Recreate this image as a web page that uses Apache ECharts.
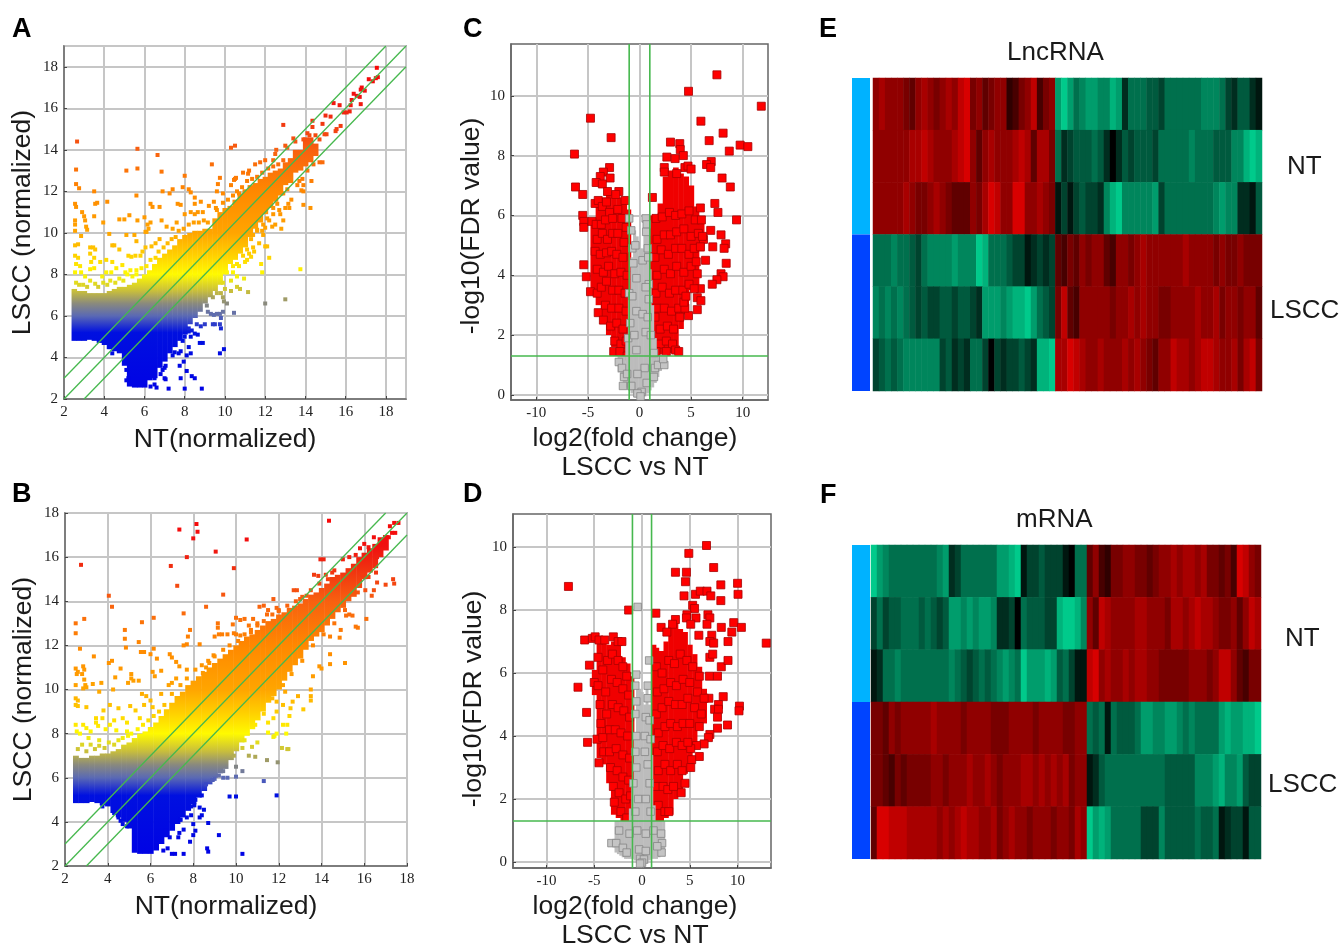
<!DOCTYPE html>
<html><head><meta charset="utf-8">
<style>html,body{margin:0;padding:0;background:#fff}#c{width:1343px;height:945px}</style>
<script src="https://cdn.jsdelivr.net/npm/echarts@6/dist/echarts.min.js"></script>
</head><body><div id="c"></div>
<script>
// ---------- DATA ----------
const volXTicks=[-10,-5,0,5,10];
const volYTicks=[0,2,4,6,8,10];
// Panel A dense cloud: [x, low y, high y]
const bodyA=[[2.5,4.8,7.3],[2.75,4.8,7.2],[3,4.8,7.2],[3.25,4.85,7.1],[3.5,4.8,7.1],[3.75,4.7,7.1],[4,4.6,7.1],[4.25,4.4,7.2],[4.5,4.3,7.3],[4.75,4.2,7.4],[5,3.6,7.4],[5.25,2.6,7.5],[5.5,2.55,7.6],[5.75,2.55,7.8],[6,2.55,8],[6.25,2.9,8.2],[6.5,3.0,8.5],[6.75,3.5,8.8],[7,3.8,9],[7.25,4.2,9.2],[7.5,4.5,9.4],[7.75,4.8,9.7],[8,5.1,9.9],[8.25,5.6,10],[8.5,5.9,10.1],[8.75,6.2,10.1],[9,6.6,10.2],[9.25,6.9,10.2],[9.5,7.2,10.7],[9.75,7.5,11],[10,8,11.2],[10.25,8.5,11.3],[10.5,8.7,11.6],[10.75,9,11.9],[11,9.3,12.1],[11.25,9.8,12.3],[11.5,10.2,12.4],[11.75,10.5,12.6],[12,10.9,12.7],[12.25,11.2,12.9],[12.5,11.5,13],[12.75,11.8,13.1],[13,12.3,13.4],[13.25,12.4,13.6],[13.5,12.9,14],[13.75,13,14],[14,13.2,14.6],[14.25,13.4,14.6],[14.5,13.7,14.3]];
// Panel A single points: x,y pairs
const ptsA=[17.55,17.95,17.6,17.5,17.5,17.45,17.35,17.3,17.15,17.4,16.95,16.85,16.8,17,16.75,16.9,16.55,16.6,16.4,16.7,16.7,16.55,16.3,16.4,16.75,16.2,16.25,16.15,16.2,15.85,16.05,15.8,15.9,15.8,15.7,16.15,15.4,16.25,15.25,15.6,15,15.65,14.85,15.25,15.75,15.15,15.55,15,15.5,14.9,15.05,14.75,14.95,14.75,12.9,15.2,14.35,15.4,14.35,15.1,14.1,14.8,14.5,14.7,14.7,14.5,13.4,14.55,13.5,14.4,13.9,14.5,14.2,14.7,14.85,13.4,14.7,13.4,14.3,12.5,13.9,12,13.8,12.05,13.9,12.3,13.85,12.6,13.9,11.35,14.25,11.2,12.8,10.2,12.9,10.6,12.75,10.9,13.2,11.2,13.15,11.4,12.5,10.4,12.35,10.3,12,10.25,11.85,10.1,11.6,10.15,
2.65,14.4,2.6,13.05,2.6,12.35,2.75,12.15,2.55,11.4,2.6,11.25,2.55,10.6,2.55,10.4,2.55,10.1,2.9,11,3,10.8,3.05,10.6,3.1,10.3,3.15,10.15,2.85,9.85,2.55,9.4,2.7,9.45,3.5,12,3.65,11.45,3.55,11.4,3.5,10.8,4.15,11.5,3.95,10.5,4.25,9.95,4.4,9.4,4.75,10.65,5,10.65,5.1,9.9,5.25,10.85,5.1,13,5.65,14.05,5.65,13.1,5.6,11.8,5.65,10.6,5.6,9.6,5.5,9.9,6,10.75,6.1,10.05,6.05,10.05,6.2,10.2,6.15,10.4,6.3,11.4,6.4,11.25,6.3,10.5,6.65,13.75,6.85,12.95,6.9,12,6.75,11.25,6.85,10.6,7.25,11.9,7.4,12.1,7.65,11.4,7.8,11.35,8,12.75,7.9,12.2,8.2,12.1,8.3,11.95,8.5,11.7,8.5,11.4,8.8,11.5,8.65,11,8.9,11,9.35,13.3,9.75,12.65,9.65,12.35,9.6,12,9.45,11.5,9.55,11.2,10.3,14.1,10.5,14.2,10.45,12.55,10.55,12.65,10.7,11.9,11.15,12.85,9.2,11.3,7.1,10.3,7.4,10.2,7.6,10.5,8,10.9,8.3,11,8.5,10.9,
13.75,8.25,13,6.8,12,6.6,10.45,6.15,10.1,6.6,9.95,6.7,11.15,7.15,10.6,7.4,10.75,7.3,10.95,7.8,11.85,8.1,11.8,8.5,12.2,8.8,12,9.35,12.1,9.35,11.3,8.85,11.1,8.7,11.45,9.1,11.7,9.5,10.6,7.9,10.3,7.7,10,7.3,10.3,7.2,9.9,6.9,
8.85,2.5,8,2.5,7.2,2.5,8.35,3.1,8.5,3,7.8,3,8.1,3.35,7.75,3.6,7.95,3.8,7.05,2.95,7,3,6.9,3.4,9.75,4.2,9.95,4.4,8.9,4.7,8.75,4.7,8.1,4.1,8.3,4.2,8.2,4.5,7.8,4.3,8.65,5.1,8.5,5.15,8.35,5.3,8.2,5.25,9.8,5.4,9.75,5.6,9.4,5.6,9.5,5.6,9.8,5.9,9.15,6.2,9.3,6.1,9.45,6.05,9.6,6.1,9.75,6.1,9.9,6.2,
2.55,8.9,2.7,8.8,2.6,8.5,2.8,8.4,2.55,8.1,2.85,8.1,3.05,7.9,3.3,9.3,3.45,9.3,3.55,9.2,3.3,9,3.5,8.8,3.35,8.6,3.5,8.3,3.3,8.25,3.8,8.6,4.1,8.7,4.4,8.6,4.1,8.1,4.35,8.1,3.9,7.9,4.6,8.3,4.9,8.45,5.2,8.9,5.35,8.85,5.55,8.9,5.8,8.9,5.9,9.1,6.05,9.3,6.35,9.35,6.55,9.5,6.75,9.7,5.05,8.1,5.3,8.2,5.6,8.2,4.75,9.2,4.5,9.4,
4.3,4.5,4.4,4.2,4.7,4.4,5.1,3.4,5.2,3,5.1,2.9,6.3,2.6,6.5,2.7,6.6,2.55,6.5,3.0,7,3.5,7.05,3.6,6.8,3.2,7.4,4.1,7.5,4.25,7.7,4.2,7.9,4.8,8,5,8.2,5.4,8.3,5,8.6,5.6,8.8,5.5,9,5.6,
9.9,11.9,10.3,12.3,10.5,12.6,10.9,12.9,11.2,13,11.5,13.3,11.75,13.4,12,13.5,12.4,13.5,12.5,13.8,12.55,14,13,14.2,13.1,14.1,9.8,7.1,10.4,8.1,10.7,8.4,11,8.6,11.2,9,11.4,9.3,11.3,9.7,11.9,9.9,12.2,10.6,12.4,10.9,12.7,11.1,13,11.2,13.3,11.6,13.6,12.3,13.7,12.5,14.1,13,14.4,13.3,
2.6,7.6,2.75,7.5,2.95,7.5,3.15,7.4,3.3,7.7,3.55,7.55,3.7,7.4,3.95,7.6,4.15,7.5,4.3,7.7,4.55,7.6,4.75,7.8,4.95,7.7,5.15,8,5.4,7.9,5.6,8,5.85,8.3,6.1,8.4,6.3,8.7,6.55,8.8,6.7,9.1,6.95,9.3,7.15,9.5,7.35,9.7,7.55,9.8,7.7,10.1,7.95,10.2,8.2,10.4,8.45,10.5,8.7,10.5,8.95,10.6,9.15,10.5,
9.1,6.5,9.4,6.9,9.6,7.1,9.9,7.6,10.1,8.1,10.4,8.4,10.6,8.5,10.9,8.9,11.1,9.2,11.4,9.9,11.6,10.1,11.9,10.4,12.1,10.7,12.4,11.2,12.6,11.4,12.9,11.9,13.1,12.1,
9.6,11.1,9.9,11.45,10.15,11.6,10.4,11.8,10.6,12,10.85,12.2,11.1,12.5,11.35,12.6,11.6,12.7,11.85,12.9,12.15,13.1,12.4,13.2,12.65,13.3,12.9,13.5];
// Panel B dense cloud
const bodyB=[[2.5,4.85,7],[2.75,4.85,6.9],[3,4.85,6.9],[3.25,4.9,7],[3.5,4.85,7],[3.75,4.75,7.1],[4,4.7,7.1],[4.25,4.4,7.2],[4.5,4.2,7.3],[4.75,4,7.5],[5,3.7,7.6],[5.25,2.6,7.8],[5.5,2.55,8],[5.75,2.55,8.1],[6,2.55,8.3],[6.25,2.7,8.5],[6.5,3,8.8],[6.75,3.3,9.1],[7,3.6,9.4],[7.25,3.9,9.7],[7.5,4.2,9.9],[7.75,4.5,10.2],[8,4.8,10.4],[8.25,5.1,10.6],[8.5,5.4,10.8],[8.75,5.7,11],[9,6,11.2],[9.25,6.2,11.4],[9.5,6.4,11.6],[9.75,6.8,11.8],[10,7.2,12],[10.25,7.6,12.2],[10.5,7.9,12.4],[10.75,8.2,12.5],[11,8.6,12.7],[11.25,9,12.9],[11.5,9.4,13.1],[11.75,9.7,13.2],[12,10,13.4],[12.25,10.4,13.5],[12.5,10.8,13.7],[12.75,11.1,13.8],[13,11.4,13.9],[13.25,11.8,14.1],[13.5,12.2,14.3],[13.75,12.4,14.4],[14,12.6,14.6],[14.25,12.9,14.8],[14.5,13.2,15.1],[14.75,13.5,15.2],[15,13.7,15.3],[15.25,14,15.5],[15.5,14.2,15.7],[15.75,14.6,16],[16,15,16.2],[16.25,15.3,16.4],[16.5,15.5,16.6],[16.75,16,16.9],[17,16.3,17]];
const ptsB=[2.75,15.65,8.15,17.5,7.35,17.25,8.2,17.15,8,16.85,10.5,16.8,9.05,16.25,7.7,16,14.35,17.65,6.95,15.6,9.9,15.5,7.25,14.7,9.4,14.3,4.05,14.25,4.2,13.75,8.6,13.75,7.55,13.45,6.15,13.25,5.6,13.05,2.5,13,2.9,13.2,2.5,12.55,2.7,11.85,4.8,12.7,4.8,12.3,4.85,11.9,5.45,12.15,5.55,11.7,5.7,11.7,6.15,11.85,6,11.6,6.3,11.4,3.35,11.5,4.2,11.3,4.05,11.2,4.6,10.95,2.5,10.95,2.6,10.8,2.55,10.7,2.85,11.05,2.9,10.9,2.8,10.7,2.9,10.45,2.95,10.2,2.85,10.05,3,10.1,2.5,10.2,2.5,9.6,2.6,9.5,2.5,9.3,2.6,9.25,3.3,10.25,3.7,10.3,4.25,10,3.6,9.9,4.35,10.55,4.95,10.3,5.1,10.7,5.1,10.5,5.2,10.4,5.45,10.4,5.6,9.8,5.8,9.7,6.1,10.8,6.2,10.6,6.5,10.85,6.9,11.6,7,11.45,7.2,11.25,7.35,11.05,7.7,10.9,7.55,12,7.7,12.05,7.85,12.7,7.75,12.4,8.3,12.05,8.45,10.75,8.6,11,8.75,11.2,8.95,11.55,9,12.4,9.15,12.8,9.2,12.5,9.35,12.5,9.6,12.5,9.15,13,9.85,12.95,10,13.25,10.2,13.15,10.4,13.2,10.6,12.9,10.8,13.2,9.9,12.55,10,12.5,10.2,12.45,11.1,13.75,11.3,13.8,11.45,13.4,11.75,14.1,11,13,10.7,12.6,11.5,13.6,11.9,13.7,12,13.55,12.7,14.5,12.85,14.5,13,14.1,13.3,14.25,13.65,15.2,13.85,15.15,13.95,15.9,14.1,15.9,14.2,15.2,14.5,15.3,15,15.9,15.3,16,15.6,16.1,15.8,16.4,16,16.6,16.2,16.45,16.6,16,17.2,17.4,17.3,17.1,17.4,17.55,17.6,17.55,17.45,17.1,17.15,16.9,16.9,16.7,16.7,16.55,16.45,16.9,15.9,15.2,16.45,14.5,16.35,14.25,16.05,14.5,16.6,14.85,16.55,15.3,17,14.75,17.35,15,17.4,14.8,16.1,13.2,15.7,12.8,15.6,12.85,15.15,13.35,15.3,13.4,15.45,13.35,14.9,12.7,14.85,12.35,14.4,12.4,14.4,11.6,15.1,11.2,14.4,11.15,14,10.95,13.9,11.05,13.6,10.6,13.5,10,13.5,9.7,13.5,9.5,13.15,9.1,12.9,9.7,12.65,9.45,12.55,9.15,12.3,9.9,12.5,8.8,12.2,8.4,12.4,8.4,12.35,8,12.4,7.3,12.15,7.35,12.45,7.3,11.5,8.05,11.8,7.9,11.9,8,11.95,6.7,11.45,6.8,11.3,5.85,11.9,5.2,10,6.05,10,5.15,9.7,5.15,10.3,6.3,10,6.5,10.3,2.55,8.65,2.8,8.7,2.65,7.55,2.55,9.2,3.4,8.7,3.95,8,3.9,7,2.55,7.15,2.55,6.6,2.7,6.8,2.8,7.3,3.3,7.35,3.5,7.85,3.1,8,3.4,8.1,3.6,7.55,3.65,6.9,3.3,6.7,3.6,7.4,4.1,8.3,4.2,8.4,4.3,8.5,4.55,7.7,4.2,7.9,4.3,8.05,4.75,8.3,4.65,8.1,5,8.6,5.7,8.9,5.9,9,5.95,9.2,6.1,9.4,6,9.6,6,4.5,4.2,4.6,4.05,4.7,3.9,4.9,3.8,3.75,4.7,4.3,4.4,2.5,8.4,2.55,8.1,2.7,8,2.85,8.4,3,8.25,3.2,8.1,3.1,7.8,3.45,8.7,3.55,8.35,3.6,7.7,3.9,8.2,3.75,8.7,4.1,8.4,4.3,8.6,4.4,8.15,4.7,8.7,4.9,8.5,4.9,8.1,5.3,9.05,5.5,8.7,5.7,9.3,5.05,9.25,4.5,9.15,4.1,9.3,3.8,9.05,3.45,8.5,3,9.2,6,9.5,6.5,9.8,6.1,9.2,6.85,10.2,7,10.3,7.2,10.5,10.3,7.35,10.6,7,10.9,6.95,10.75,7.4,11,7.6,11.5,8.5,11.75,8.7,11.9,9,12.2,9.3,11.9,9.45,11.75,7.85,
2.6,7.3,2.8,7.5,3,7.2,3.2,7.5,3.4,7.3,3.6,7.45,3.85,7.35,4.05,7.6,4.3,7.5,4.5,7.7,4.7,7.8,4.95,7.9,5.1,8,5.4,8.2,5.65,8.4,5.9,8.6,6.15,8.8,6.4,9,6.65,9.3,
7,9.8,7.4,10.2,7.7,10.5,8.1,10.9,8.4,11.1,8.7,11.3,9,11.5,9.4,11.8,9.7,12,10.1,12.2,10.4,12.5,10.7,12.7,11,12.9,11.3,13.1,11.7,13.4,12,13.6,12.4,13.8,12.8,14,13.1,14.2,13.5,14.5,13.9,14.8,14.3,15,14.6,15.4,
7.4,4.1,7.9,4.7,8.4,5.2,8.9,5.9,9.4,6.3,9.9,7,10.4,7.7,10.9,8.4,11.3,8.9,11.7,9.6,12.2,10.2,12.6,10.7,13.1,11.3,13.6,12,14.1,12.5,14.6,13,15.1,13.6,15.7,14.4,16.2,15.1];
// Volcano C
const redBandC=[[-4.5,3.4,5.9],[-4,3,6.4],[-3.5,2.5,6.6],[-3,2,6.8],[-2.5,1.6,6.7],[-2,1.4,6.6],[-1.5,1.3,6.5],[-1.1,1.3,6.2],[1.2,1.3,6],[1.5,1.3,6],[2,1.35,6.4],[2.5,1.35,7.3],[3,1.4,7.5],[3.5,1.5,7.6],[4,2.2,7.4],[4.5,2.7,7.3],[5,3.5,7],[5.5,3.6,6.3],[6,4.8,5.9]];
const grayBandC=[[-2,.75,1.3],[-1.75,.5,1.3],[-1.5,.4,1.3],[-1.25,.25,2],[-1,.15,3.4],[-.75,.05,4.6],[-.5,-.05,5.5],[-.25,-.1,5.3],[0,-.12,4.9],[.25,-.1,4.9],[.5,-.05,5.5],[.75,.05,5.5],[1,.15,4.2],[1.25,.25,3],[1.5,.4,1.9],[1.75,.6,1.3],[2,.8,1.3]];
const redC=[7.5,10.7,4.75,10.15,11.8,9.65,-4.75,9.25,5.95,9.15,8.1,8.75,-2.75,8.6,3,8.45,6.75,8.5,3.9,8.4,9.75,8.35,10.5,8.3,3.95,8.2,8.7,8.15,-6.3,8.05,4.25,8,2.65,7.95,3.45,7.9,6.95,7.8,6.5,7.7,6.9,7.6,4.4,7.6,4.7,7.65,5,7.55,2.4,7.6,2.4,7.45,3.6,7.4,-2.9,7.6,-3.5,7.45,-3.8,7.3,-2.85,7.25,-4.2,7.1,-3.6,7.05,8,7.25,8.8,6.95,-6.2,6.95,-5.5,6.7,1.25,6.6,-2,6.8,-2.3,6.7,-3.1,6.8,-1.4,6.5,7.3,6.4,7.6,6.1,9.4,5.85,5.9,6.25,-5.5,6,-5.4,5.8,-5.4,5.6,6.9,5.5,7.9,5.35,8.35,5.05,8.2,4.9,7.1,4.95,6.4,4.5,8.4,4.4,-5.4,4.35,-5.15,3.95,7.9,4.05,8.1,3.95,7.5,3.85,7.05,3.7,5.9,3.55,5.6,3.25,5.95,3.15,5.6,2.85,-4.75,3.45,-4.1,3.4,-4,2.75,-3.5,2.5,4.75,2.65,
-4.3,6.4,-4,6.5,-3.6,6.3,-3.2,6.45,-2.9,6.1,-4.6,5.8,-4.2,5.7,-3.7,5.7,-3.3,5.85,-2.6,5.9,-2.1,6.2,-1.7,5.9,-1.3,5.6,-4.1,5.2,-3.6,5.4,-3.1,5.2,-2.6,5.4,-2.1,5.4,-1.5,5.1,-4.3,4.8,-3.8,4.7,-3.2,4.75,-2.7,4.8,-2.2,4.7,-1.6,4.6,-4.1,4.2,-3.5,4.1,-3,4.3,-2.4,4.05,-1.8,4.1,-1.2,4,-3.7,3.6,-3.2,3.8,-2.6,3.5,-2,3.5,-1.4,3.4,-3.3,3,-2.7,2.9,-2,2.9,-1.3,2.8,-2.8,2.3,-2.2,2.4,-1.6,2.2,-2.4,1.8,-1.8,1.7,-1.3,1.8,-2.5,1.45,-1.9,1.45,-1.2,1.3,
1.6,5.9,2.2,5.95,2.9,6.1,3.5,6,4.1,6.05,4.8,6.15,5.4,5.85,1.7,5.2,2.4,5.35,3,5.35,3.6,5.45,4.3,5.55,5,5.3,5.7,5.4,6,5.85,1.5,4.6,2.1,4.85,2.8,4.7,3.5,4.9,4.1,4.9,4.8,4.7,5.3,4.9,6.2,5.2,1.7,4,2.4,4.2,3,4.05,3.6,4.3,4.3,4.1,5,4.3,5.5,4.45,1.6,3.4,2.2,3.6,2.9,3.4,3.5,3.5,4.2,3.5,4.8,3.7,1.7,2.9,2.4,2.9,3.1,2.8,3.8,2.9,4.4,2.9,1.5,2.6,2,2.2,2.7,2.3,3.3,2.2,3.9,2.6,2,1.7,2.6,1.8,3.2,1.7,1.6,1.45,2.6,1.45,3.5,1.5,3.8,1.45,4.3,3.1,4.5,3.3,5.3,3.55,5.6,4.05,5.9,4.95,6.1,5.3];
const grayC=[-1,5.9,-.8,5.5,.6,5.9,.7,5.7,.65,5.45,-.7,4.9,-.4,5,.8,4.9,-.6,4.4,.3,4.5,.85,4.6,-.3,3.9,.9,3.7,-1,3.4,-.7,3.3,.6,3.6,.9,3.2,-.3,2.8,.3,2.7,-.9,2.4,.8,2.6,-1.1,1.9,-.5,2,.6,2.1,1.1,2,-.3,1.5,1.4,1.4,-2,1.1,-1.7,.9,-1.5,.6,-1.6,.3,-1.2,.7,.5,.9,1.5,.9,1.8,1,2.4,1,2.3,1.2,1.4,.6,-.8,.3,-.2,.7,.7,.4,.2,.1,-.2,.05,.1,-.05];
// Volcano D
const redBandD=[[-5,5.3,6.1],[-4.5,3.3,7],[-4,3.1,7],[-3.5,2.5,6.9],[-3,1.5,7],[-2.5,1.4,6.9],[-2,1.3,6.5],[-1.5,1.3,6.3],[-1.1,1.3,5.9],[1.2,1.3,6.9],[1.5,1.3,6.8],[2,1.3,6.7],[2.5,1.4,7],[3,1.5,7.5],[3.5,2,7.7],[4,2.3,7.4],[4.5,2.8,7.3],[5,3,6.9],[5.5,3.6,6.6],[6,4.2,6.2],[6.5,4.4,5.5]];
const grayBandD=[[-2.75,.3,1.3],[-2.5,.25,1.3],[-2.25,.2,1.3],[-2,.15,1.3],[-1.75,.1,1.3],[-1.5,.1,1.3],[-1.25,.1,1.7],[-1,.1,2.5],[-.75,.05,4],[-.5,-.05,5.5],[-.25,-.1,5.5],[0,-.12,5.4],[.25,-.1,5],[.5,-.05,5.5],[.75,.05,5],[1,.1,3.4],[1.25,.1,1.8],[1.5,.1,1.3],[1.75,.15,1.3],[2,.2,1.3],[2.25,.3,1.3]];
const redD=[6.75,10.05,4.9,9.8,7.5,9.35,3.5,9.2,4.65,9.2,4.55,8.9,8.25,8.8,10,8.85,-7.7,8.75,10.05,8.5,5.6,8.5,6.1,8.6,6.8,8.6,7.2,8.45,4.4,8.45,8.25,8.3,5.3,8.15,5.5,8.05,-1.4,8,1.45,7.9,4.7,7.85,4.65,7.75,5.65,7.75,6.9,7.85,7.1,7.75,6.8,7.55,5.1,7.55,9.6,7.6,3.5,7.7,3.2,7.55,10.4,7.45,2,7.45,8.3,7.45,9.4,7.3,2.6,7.3,13,6.95,9,7,5.95,7.2,7.3,7.2,7.1,7,7.5,6.95,-6,7.05,-5.2,7.1,-4.9,7.15,-4.5,7.05,-3.9,7.05,-3,7.15,-2.5,7,-2.1,7,-4.6,6.5,-5.5,6.25,8.3,6.2,9,6.4,7.1,6.5,7.4,6.6,7.05,5.9,7.9,5.9,-5,5.7,-6.7,5.55,8.5,5.25,7,5.2,8,5,7.6,4.85,8,4.85,10.2,4.95,10.15,4.8,-5.8,4.75,7.9,4.6,8.95,4.35,7.9,4.25,-5.7,3.8,7.1,4.05,6.95,3.95,6.5,3.75,5.7,3.7,5.1,3.6,6,3.35,5.2,3.25,5.1,3,-4.5,3.15,4.5,2.5,4.1,2.2,
-4.6,5.6,-4.1,6.1,-3.6,6.4,-3.1,6.6,-2.5,6.4,-2,6.2,-1.6,5.9,-4.4,5,-3.8,5.4,-3.2,5.8,-2.6,5.7,-2,5.5,-1.4,5.3,-4.3,4.4,-3.7,4.7,-3.1,5,-2.5,4.9,-1.9,4.8,-1.3,4.6,-4.7,3.9,-4.1,3.95,-3.4,4.2,-2.8,4.2,-2.2,4.1,-1.5,4,-4,3.5,-3.4,3.5,-2.7,3.6,-2,3.4,-1.3,3.3,-3.3,3,-2.6,2.9,-2,2.7,-1.4,2.6,-3,2.4,-2.4,2.2,-1.7,2,-1.2,2.1,-2.9,1.9,-2.2,1.6,-1.6,1.4,
1.5,6.2,2.1,6,2.8,6.4,3.4,6.3,4,6.6,4.7,6.4,5.3,6.2,6,5.9,1.6,5.4,2.3,5.5,3,5.7,3.6,5.6,4.3,5.8,5,5.7,5.8,5.4,6.5,5.2,1.5,4.7,2.1,4.9,2.8,5.1,3.5,5,4.2,5,4.8,5.2,5.5,4.9,6.2,4.7,1.7,4.1,2.4,4.3,3,4.4,3.7,4.3,4.3,4.4,5,4.4,6,4.3,1.6,3.5,2.2,3.7,2.9,3.6,3.6,3.8,4.2,3.7,4.8,3.8,1.7,2.9,2.4,3.1,3,2.9,3.7,3.1,4.2,2.9,1.5,2.4,2.2,2.4,2.7,2.3,3.3,2.4,1.7,1.8,2.4,1.6,2.8,1.6];
const grayD=[-.45,8.1,-.6,5.95,.75,6.4,-.7,5.6,.6,5.6,-.6,5.1,.6,5.2,-.7,4.7,.4,4.6,.8,4.5,-.6,4,.3,4,.9,3.9,-.7,3.5,.3,3.5,-.6,3,.6,3.1,-.9,2.5,.8,2.5,-.4,2,.4,2,-.7,1.6,.9,1.6,-3.2,.6,-2.7,.6,-2.4,1,-2,.45,-1.6,.3,-1.3,.9,-.5,1,.4,.9,1.2,1,2,.9,2.1,.6,2.05,.3,1.6,.5,-.3,.4,.4,.35,-.2,.1,.2,.08,0,-.02,-.2,-.05];
// Heatmap E (rows top to bottom), left block then right block
const e1=[6,7,6,6,6,5,4,6,7,6,5,6,7,6,8,9,5,6,4,5,6,6,2,3,5,6,8,3,5,6,-7,-9,-7,-5,-6,-7,-7,-6,-6,-8,-7,-2,-5,-5,-5,-4,-4,-3,-5,-5,-5,-5,-5,-5,-6,-6,-6,-5,-3,-2,-4,-4,-2,-1];
const e2=[6,6,6,6,6,6,7,7,8,7,6,6,6,7,8,9,6,4,6,7,6,6,6,7,8,7,4,7,7,5,-5,-2,-3,-4,-4,-4,-5,-4,-2,0,-2,-4,-3,-4,-4,-4,-3,-5,-5,-5,-5,-5,-6,-5,-5,-5,-4,-4,-4,-6,-6,-8,-9,-8];
const e3=[6,6,6,6,6,7,6,5,5,6,7,6,5,4,4,4,6,5,7,9,8,6,6,9,9,6,6,7,6,5,-1,-3,-1,-3,-4,-3,-3,-2,-6,-8,-9,-6,-6,-6,-6,-6,-7,-3,-5,-5,-5,-5,-5,-5,-5,-5,-6,-7,-6,-6,-2,-2,-1,-4];
const e4=[-5,-5,-5,-6,-5,-5,-4,-3,-5,-6,-6,-6,-6,-7,-6,-6,-6,-9,-8,-5,-5,-5,-4,-3,-3,-1,-2,-3,-2,-3,4,3,5,4,6,5,6,6,4,3,6,6,5,6,7,6,6,6,6,6,6,7,6,6,6,6,5,6,5,5,6,5,5,5];
const e5=[-6,-5,-6,-5,-6,-5,-4,-3,-4,-3,-3,-4,-4,-3,-4,-4,-3,-2,-7,-7,-7,-6,-7,-8,-8,-9,-7,-5,-4,-3,5,8,4,3,6,6,6,6,6,5,6,6,7,6,7,6,6,5,5,6,6,6,6,7,6,6,7,5,6,6,5,6,6,4];
const e6=[-3,-4,-5,-4,-5,-6,-6,-6,-6,-6,-6,-3,-4,-2,-3,-2,-5,-5,-3,0,-3,-2,-3,-3,-4,-3,-2,-8,-8,-9,7,7,9,8,7,6,6,7,6,6,6,7,6,7,6,5,4,6,6,8,7,7,6,7,8,8,7,6,6,7,5,7,8,5];
// Heatmap F
const f1=[-9,-7,-6,-5,-5,-5,-5,-5,-5,-5,-5,-6,-7,-2,-3,-5,-5,-5,-5,-5,-5,-7,-7,-8,-9,-1,-3,-3,-4,-3,-3,-3,-1,0,-5,-5,4,6,3,2,5,5,6,6,5,5,4,5,6,6,7,6,7,7,6,7,5,5,4,5,3,9,8,6,5];
const f2=[-3,-5,-3,-4,-4,-5,-5,-5,-4,-5,-4,-3,-4,-7,-7,-6,-7,-6,-7,-7,-6,-2,-2,-3,0,-5,-4,-4,-4,-3,-3,-8,-9,-9,-8,-6,6,4,8,7,6,6,6,6,7,7,6,6,6,5,7,7,6,7,8,7,7,6,5,5,6,4,6,8,7];
const f3=[-1,-2,-5,-5,-6,-5,-5,-5,-5,-5,-5,-5,-5,-6,-5,-4,-3,-4,-5,-4,-5,-6,-7,-6,-5,-9,-7,-7,-7,-8,-7,-4,-5,-3,-1,-1,8,9,6,7,6,6,7,6,7,7,6,6,5,5,5,5,5,6,6,6,5,6,8,8,6,4,3,5,5];
const f4=[5,5,4,6,5,6,6,6,6,6,7,6,6,6,6,5,6,6,6,6,5,5,5,6,6,6,6,5,6,6,6,6,5,5,6,6,-5,-4,-5,-1,-5,-4,-4,-4,-5,-7,-7,-6,-6,-7,-7,-6,-5,-6,-5,-5,-5,-5,-7,-8,-7,-7,-8,-8,-9];
const f5=[5,5,4,3,5,4,5,5,5,5,6,6,5,6,6,6,7,6,6,7,6,5,6,6,6,7,7,6,7,6,7,6,7,5,6,6,-1,-2,-4,-5,-5,-5,-5,-5,-5,-5,-5,-5,-5,-4,-4,-4,-4,-4,-6,-6,-6,-7,-8,-6,-6,-7,-4,-3,-3];
const f6=[4,9,9,8,8,8,7,7,7,7,7,6,7,6,7,8,7,7,6,6,7,5,6,7,6,6,5,6,6,6,5,6,6,5,7,6,-9,-7,-8,-7,-5,-5,-5,-5,-5,-3,-3,-3,-6,-4,-4,-4,-4,-4,-5,-4,-4,-5,-1,-2,-3,-3,-1,-4,-4];
const sampleGroups=[3,3];
// ---------- STYLE ----------
const SERIF='"Liberation Serif",serif',SANS='"Liberation Sans",Arial,sans-serif';
const GREEN='#46b84e';
const stops=[[2,[0,0,230]],[5.2,[0,16,224]],[6,[90,105,180]],[6.6,[138,138,125]],[7.2,[200,190,60]],[8,[255,250,0]],[9,[255,205,0]],[10,[255,165,0]],[12,[255,136,0]],[14,[248,96,16]],[15.5,[240,48,16]],[16.5,[240,16,16]],[19,[255,0,0]]];
function colorAt(v){
  for(let i=1;i<stops.length;i++){ if(v<=stops[i][0]){
    const a=stops[i-1],b=stops[i],t=Math.max(0,(v-a[0])/(b[0]-a[0]));
    return 'rgb('+a[1].map((c,k)=>Math.round(c+(b[1][k]-c)*t)).join(',')+')';
  }}
  return 'rgb(255,0,0)';
}
const pairs=a=>{const o=[];for(let i=0;i<a.length;i+=2)o.push([a[i],a[i+1]]);return o;};
const grids=[],xAxes=[],yAxes=[],series=[];
function addGrid(box,xa,ya,framed){
  grids.push(Object.assign({containLabel:false,outerBoundsMode:'none',show:!!framed,borderColor:'#666',borderWidth:1.5,backgroundColor:'transparent'},box));
  const g=grids.length-1;
  xa.gridIndex=g;ya.gridIndex=g;xAxes.push(xa);yAxes.push(ya);
  return g;
}
function valAxis(min,max,ticks,interval,name,gap,pad){
  const a={type:'value',min,max,
    axisLine:{show:true,onZero:false,lineStyle:{color:'#666',width:1.5}},
    axisTick:{show:true,inside:true,length:3,lineStyle:{color:'#444'}},
    axisLabel:{show:true,fontFamily:SERIF,fontSize:15,color:'#222',margin:6,hideOverlap:false,showMinLabel:true,showMaxLabel:max!==19},
    splitLine:{show:true,lineStyle:{color:'#c6c6c6',width:2}},
    name,nameLocation:'middle',nameGap:gap,nameTextStyle:{fontFamily:SANS,fontSize:26.5,color:'#1a1a1a',lineHeight:29,padding:pad||0}};
  if(interval){a.interval=interval;}
  else{a.axisLabel.customValues=ticks;a.axisTick.customValues=ticks;a.splitLine.customValues=ticks;}
  return a;
}
function bandSeries(g,rows,step,fill){
  return {type:'custom',xAxisIndex:g,yAxisIndex:g,z:2,silent:true,clip:true,data:rows,encode:{x:0,y:[1,2]},
    renderItem(p,api){
      const x=api.value(0),lo=api.value(1),hi=api.value(2);
      const a=api.coord([x-step/2,hi]),b=api.coord([x+step/2,lo]);
      let f=fill;
      if(!f){
        const t=api.coord([x,19])[1],bt=api.coord([x,2])[1];
        f=new echarts.graphic.LinearGradient(0,t,0,bt,stops.map(s=>({offset:(19-s[0])/17,color:colorAt(s[0])})).reverse(),true);
      }
      return {type:'rect',shape:{x:a[0],y:a[1],width:b[0]-a[0]+.5,height:b[1]-a[1]},style:{fill:f}};
    }};
}
function scatterByY(g,data,size){
  return {type:'scatter',xAxisIndex:g,yAxisIndex:g,z:3,symbol:'rect',symbolSize:size,data,silent:true,
    itemStyle:{color:p=>colorAt(p.value[1]),opacity:1}};
}
function scatterFlat(g,data,size,color,border,z){
  return {type:'scatter',xAxisIndex:g,yAxisIndex:g,z,symbol:'rect',symbolSize:size,data,silent:true,
    itemStyle:{color,borderColor:border,borderWidth:.8,opacity:1}};
}
function lineS(g,data,w){
  return {type:'line',xAxisIndex:g,yAxisIndex:g,z:5,data,symbol:'none',silent:true,clip:true,lineStyle:{color:GREEN,width:w||1.3}};
}
function maScatter(box,body,pts,m,pad){
  const g=addGrid(box,
    valAxis(2,m,null,2,'NT(normalized)',26,pad),
    valAxis(2,m,null,2,'LSCC (normalized)',27),true);
  series.push(bandSeries(g,body,.25,null));
  series.push(scatterByY(g,pairs(pts),4));
  series.push(lineS(g,[[2,2],[m,m]]));
  series.push(lineS(g,[[2,3],[m-1,m]]));
  series.push(lineS(g,[[3,2],[m,m-1]]));
}
function volcano(box,xr,yr,rb,gb,red,gray,xPad,yPad){
  const g=addGrid(box,
    valAxis(xr[0],xr[1],volXTicks,null,'log2(fold change)\nLSCC vs NT',24,xPad),
    valAxis(yr[0],yr[1],volYTicks,null,'-log10(FDR value)',20,yPad),true);
  series.push(bandSeries(g,rb,.5,'#f00000'));
  series.push(scatterFlat(g,pairs(red),8,'#ff0000','#a80000',3));
  const gb2=bandSeries(g,gb,.25,'#bcbcbc');gb2.z=4;series.push(gb2);
  series.push(scatterFlat(g,pairs(gray),7.5,'#c4c4c4','#858585',4));
  series.push(lineS(g,[[-1,yr[0]],[-1,yr[1]]],1.6));
  series.push(lineS(g,[[1,yr[0]],[1,yr[1]]],1.6));
  series.push(lineS(g,[[xr[0],1.3],[xr[1],1.3]],1.6));
}
function heat(box,rows){
  const cats=rows[0].map((_,i)=>i),data=[];
  rows.forEach((r,y)=>r.forEach((v,x)=>data.push([x,y,v])));
  const hide={show:false};
  const g=addGrid(box,
    {type:'category',data:cats,show:false,axisLine:hide,axisTick:hide,axisLabel:hide,splitLine:hide},
    {type:'category',data:rows.map((_,i)=>i),inverse:true,show:false,axisLine:hide,axisTick:hide,axisLabel:hide,splitLine:hide});
  series.push({type:'heatmap',xAxisIndex:g,yAxisIndex:g,data,silent:true,progressive:0,itemStyle:{borderWidth:0}});
  return series.length-1;
}
function sideBar(box){
  const hide={show:false};
  const g=addGrid(box,
    {type:'category',data:['group'],show:false,axisLine:hide,axisTick:hide,axisLabel:hide,splitLine:hide},
    {type:'value',min:0,max:6,inverse:true,show:false,axisLine:hide,axisTick:hide,axisLabel:hide,splitLine:hide});
  ['#00b2ff','#0044ff'].forEach((c,i)=>series.push({type:'bar',stack:'g'+g,xAxisIndex:g,yAxisIndex:g,barWidth:'100%',silent:true,data:[sampleGroups[i]],itemStyle:{color:c}}));
}
// ---------- PANELS ----------
maScatter({left:64,top:46,width:342,height:353},bodyA,ptsA,19,[0,20,0,0]);
maScatter({left:65,top:513,width:342,height:353},bodyB,ptsB,18,[0,20,0,0]);
volcano({left:511,top:44,width:257,height:356},[-12.45,12.45],[-.17,11.73],redBandC,grayBandC,redC,grayC,[0,9,0,0],[0,8,0,0]);
volcano({left:513,top:514,width:258,height:354},[-13.5,13.5],[-.19,11.05],redBandD,grayBandD,redD,grayD,[0,14,0,0],[0,16,0,0]);
const hE=heat({left:873,top:78,width:389,height:313},[e1,e2,e3,e4,e5,e6]);
const hF=heat({left:871,top:545,width:390,height:314},[f1,f2,f3,f4,f5,f6]);
sideBar({left:852,top:78,width:18,height:313});
sideBar({left:852,top:545,width:18,height:314});
function T(text,left,top,bold){return {text,left,top,padding:0,textStyle:{fontFamily:SANS,fontSize:bold?27:26,fontWeight:bold?'bold':'normal',color:bold?'#000':'#1a1a1a'}};}
const titles=[T('A',12,16,1),T('B',12,481,1),T('C',463,16,1),T('D',463,481,1),T('E',819,16,1),T('F',820,482,1),
  T('LncRNA',1007,40),T('mRNA',1016,507),T('NT',1287,154),T('LSCC',1270,298),T('NT',1285,626),T('LSCC',1268,772)];
const chart=echarts.init(document.getElementById('c'),null,{renderer:'canvas'});
chart.setOption({animation:false,backgroundColor:'#fff',title:titles,grid:grids,xAxis:xAxes,yAxis:yAxes,series,
  visualMap:{show:false,min:-10,max:10,seriesIndex:[hE,hF],inRange:{color:['#00e09a','#000000','#f00000']}}});
</script></body></html>
